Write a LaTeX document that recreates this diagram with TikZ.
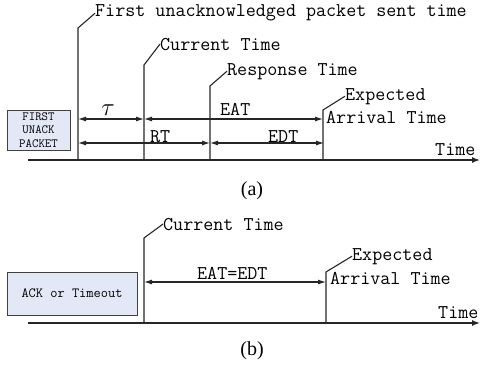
\documentclass[tikz,border=0pt]{standalone}
\usepackage{fontspec}
\usepackage{tikz}
\usetikzlibrary{arrows.meta,calc}
\newfontfamily\tdcapfont{Liberation Serif}
\definecolor{tdblue}{RGB}{226,232,245}
\newcommand{\tdBoxFill}{tdblue}
\newcommand{\tdInk}{black!85}
\tikzset{
  tdlab/.style={anchor=base west, inner sep=0pt, font=\ttfamily\fontsize{19.5}{22}\selectfont},
  tdlead/.style={draw=\tdInk, line width=1.1pt},
  tdaxis/.style={draw=\tdInk, line width=1.4pt, -{Latex[length=8pt,width=6pt]}},
  tddim/.style={draw=\tdInk, line width=1.1pt,
                {Latex[length=8pt,width=5pt]}-{Latex[length=8pt,width=5pt]}},
  tdbox/.style={draw=black!75, line width=1pt, fill=\tdBoxFill, inner sep=0pt, align=center},
  tdcap/.style={anchor=base, inner sep=0pt, font=\tdcapfont\fontsize{20}{22}\selectfont},
}

\begin{document}
\begin{tikzpicture}[x=1pt, y=-1pt]
  \useasboundingbox (0,0) rectangle (481,369);

  % (a)
  \coordinate (aS) at (28,160);
  \coordinate (aE) at (480,160);
  \coordinate (a0) at (78,160);
  \coordinate (a1) at (144,160);
  \coordinate (a2) at (210,160);
  \coordinate (a3) at (323,160);
  \coordinate (k0) at (78,28);
  \coordinate (k1) at (144,65);
  \coordinate (k2) at (210,86);
  \coordinate (k3) at (323,110);

  \node[tdbox, minimum width=63pt, minimum height=40pt,
        font=\ttfamily\fontsize{12.5}{13.5}\selectfont] (boxA) at (38.5,130) {FIRST\\UNACK\\PACKET};

  \node[tdlab] (lFirst) at (95,17) {First unacknowledged packet sent time};
  \node[tdlab] (lCurA) at (160,50) {Current Time};
  \node[tdlab] (lResp) at (227,75) {Response Time};
  \node[tdlab] (lExpA) at (345,100) {Expected};
  \node[tdlab] (lArrA) at (326,123) {Arrival Time};
  \node[tdlab] (lEAT) at (220,115) {EAT};
  \node[tdlab] (lRT) at (150,142) {RT};
  \node[tdlab] (lEDT) at (268,142) {EDT};
  \node[tdlab] (lTimeA) at (435,155) {Time};
  \node[anchor=base, inner sep=0pt] (lTau) at (108,115) {\fontsize{30}{32}\selectfont$\tau$};
  \node[tdcap] (capA) at (252,195) {(a)};

  \draw[tdaxis] (aS) -- (aE);
  \draw[tdlead] (a0) -- (k0) -- (lFirst.west);
  \draw[tdlead] (a1) -- (k1) -- (lCurA.west);
  \draw[tdlead] (a2) -- (k2) -- (lResp.west);
  \draw[tdlead] (a3) -- (k3) -- (lExpA.west);

  \coordinate (r1a) at (78,119);
  \coordinate (r1b) at (144,119);
  \coordinate (r1c) at (323,119);
  \coordinate (r2a) at (78,143);
  \coordinate (r2b) at (210,143);
  \coordinate (r2c) at (324,143);
  \draw[tddim] (r1a) -- (r1b);
  \draw[tddim] (r1b) -- (r1c);
  \draw[tddim] (r2a) -- (r2b);
  \draw[tddim] (r2b) -- (r2c);

  % (b)
  \coordinate (bS) at (28,323);
  \coordinate (bE) at (480,323);
  \coordinate (b1) at (144,323);
  \coordinate (b2) at (326,323);
  \coordinate (kb1) at (144,238);
  \coordinate (kb2) at (326,272);

  \node[tdbox, minimum width=130pt, minimum height=43pt,
        font=\ttfamily\fontsize{14}{16}\selectfont] (boxB) at (72,293.5) {ACK or Timeout};

  \node[tdlab] (lCurB) at (163,230) {Current Time};
  \node[tdlab] (lEq) at (197,279) {EAT=EDT};
  \node[tdlab] (lExpB) at (352,260) {Expected};
  \node[tdlab] (lArrB) at (330,284) {Arrival Time};
  \node[tdlab] (lTimeB) at (438,318) {Time};
  \node[tdcap] (capB) at (252,355) {(b)};

  \draw[tdaxis] (bS) -- (bE);
  \draw[tdlead] (b1) -- (kb1) -- (lCurB.west);
  \draw[tdlead] (b2) -- (kb2) -- (lExpB.west);

  \coordinate (r3a) at (144,282);
  \coordinate (r3b) at (326,282);
  \draw[tddim] (r3a) -- (r3b);
\end{tikzpicture}
\end{document}
